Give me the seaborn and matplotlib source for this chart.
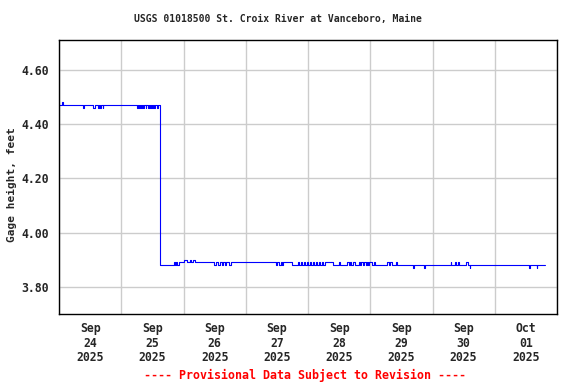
"""
plot.py
-------
USGS gage height chart, St. Croix River at Vanceboro, Maine.
Output: out.png (576x384)
"""

import pandas as pd
import matplotlib
matplotlib.use("Agg")
import matplotlib.pyplot as plt
import matplotlib.dates as mdates
import matplotlib.ticker as mtick
import seaborn as sns

# ---------------------------------------------------------------------------
# Data: hours since 2025-09-24 00:00, gage height ft
# each value holds until the next breakpoint (15-min readings, step style)
# ---------------------------------------------------------------------------

START = "2025-09-24 00:00"

gage_hours = [
    0.0, 1.0, 1.5, 9.2, 9.5, 13.1, 13.9, 15.0, 15.3, 15.8, 16.1, 16.8, 17.1,
    30.0, 30.3, 30.8, 31.1, 31.6, 31.9, 32.4, 32.7, 33.4, 33.7, 34.3, 34.6,
    35.0, 35.3, 35.8, 36.1, 36.8, 37.1, 37.8, 38.1,
    38.75, 39.0,
    44.3, 44.7, 45.1, 45.5, 46.2, 48.3, 49.2, 50.5, 50.9, 51.6, 52.3,
    59.7, 60.5, 61.3, 62.0, 62.8, 63.2, 64.0, 64.4, 65.5, 66.3,
    83.6, 84.1, 84.9, 85.4, 85.8, 86.4, 90.0, 92.0, 92.4, 93.2, 93.6, 94.4,
    94.8, 95.5, 95.9, 96.6, 97.1, 97.8, 98.3, 99.0, 99.4, 100.2, 100.6,
    101.3, 101.7, 102.4, 105.6, 107.9, 108.5,
    111.2, 111.7, 112.2, 112.7, 113.2, 114.0, 115.6, 116.1, 116.6, 117.1,
    117.6, 118.2, 118.7, 119.2, 119.7, 120.5, 121.4, 122.0,
    126.6, 127.1, 127.6, 128.2, 130.1, 130.5, 136.5, 136.75, 140.8, 141.05,
    151.0, 151.3, 152.6, 153.0, 153.9, 154.3, 157.1, 157.5, 158.4, 158.65,
    181.2, 181.7, 184.1, 184.35, 187.3,
]

gage_feet = [
    4.47, 4.48, 4.47, 4.46, 4.47, 4.46, 4.47, 4.46, 4.47, 4.46, 4.47, 4.46, 4.47,
    4.46, 4.47, 4.46, 4.47, 4.46, 4.47, 4.46, 4.47, 4.46, 4.47, 4.46, 4.47,
    4.46, 4.47, 4.46, 4.47, 4.46, 4.47, 4.46, 4.47,
    4.23, 3.88,
    3.89, 3.88, 3.89, 3.88, 3.89, 3.90, 3.89, 3.90, 3.89, 3.90, 3.89,
    3.88, 3.89, 3.88, 3.89, 3.88, 3.89, 3.88, 3.89, 3.88, 3.89,
    3.88, 3.89, 3.88, 3.89, 3.88, 3.89, 3.88, 3.89, 3.88, 3.89, 3.88, 3.89,
    3.88, 3.89, 3.88, 3.89, 3.88, 3.89, 3.88, 3.89, 3.88, 3.89, 3.88,
    3.89, 3.88, 3.89, 3.88, 3.89, 3.88,
    3.89, 3.88, 3.89, 3.88, 3.89, 3.88, 3.89, 3.88, 3.89, 3.88,
    3.89, 3.88, 3.89, 3.88, 3.89, 3.88, 3.89, 3.88,
    3.89, 3.88, 3.89, 3.88, 3.89, 3.88, 3.87, 3.88, 3.87, 3.88,
    3.89, 3.88, 3.89, 3.88, 3.89, 3.88, 3.89, 3.88, 3.87, 3.88,
    3.87, 3.88, 3.87, 3.88, 3.88,
]

y_ticks = [3.80, 4.00, 4.20, 4.40, 4.60]

TITLE  = "USGS 01018500 St. Croix River at Vanceboro, Maine"
YLABEL = "Gage height, feet"
FOOTER = "---- Provisional Data Subject to Revision ----"

# ---------------------------------------------------------------------------
# Style
# ---------------------------------------------------------------------------

sns.set_style("white")
plt.rcParams["font.family"] = ["DejaVu Sans Mono"]
plt.rcParams["font.weight"] = "bold"

LINE_COLOR = "#0000ff"
GRID_COLOR = "#cccccc"

df = pd.DataFrame({
    "time": pd.Timestamp(START) + pd.to_timedelta(gage_hours, unit="h"),
    "gage": gage_feet,
})

fig = plt.figure(figsize=(5.76, 3.84), dpi=100)
ax = fig.add_axes([59 / 576, 1 - 314 / 384, 498 / 576, 274 / 384])

sns.lineplot(data=df, x="time", y="gage", ax=ax, estimator=None,
             color=LINE_COLOR, linewidth=0.8, drawstyle="steps-post")

# axes limits
ax.set_xlim(pd.Timestamp("2025-09-24"), pd.Timestamp("2025-10-02"))
ax.set_ylim(3.70, 4.71)

# x: gridlines at midnight, labels at noon
ax.xaxis.set_major_locator(mdates.DayLocator())
ax.xaxis.set_major_formatter(mtick.NullFormatter())
ax.xaxis.set_minor_locator(mdates.HourLocator(byhour=12))
ax.xaxis.set_minor_formatter(mdates.DateFormatter("%b\n%d\n%Y"))

ax.set_yticks(y_ticks)
ax.yaxis.set_major_formatter(mtick.FormatStrFormatter("%.2f"))

ax.tick_params(axis="both", which="both", length=0)
ax.tick_params(axis="x", which="minor", pad=6, labelsize=8.3)
ax.tick_params(axis="y", which="major", pad=7, labelsize=8.3)
for lbl in ax.get_xticklabels(minor=True):
    lbl.set_linespacing(1.15)

ax.grid(True, which="major", color=GRID_COLOR, linewidth=1)
for spine in ax.spines.values():
    spine.set_color("black")
    spine.set_linewidth(1)

ax.set_xlabel("")
ax.set_ylabel("")

fig.text(278 / 576, 1 - 19 / 384, TITLE, ha="center", va="center",
         fontsize=7.0, fontweight="bold")
fig.text(12 / 576, 1 - 185 / 384, YLABEL, ha="center", va="center",
         rotation=90, fontsize=8, fontweight="bold")
fig.text(305 / 576, 1 - 375 / 384, FOOTER, ha="center", va="center",
         fontsize=8.4, fontweight="bold", color="red")

fig.savefig("out.png", dpi=100)
